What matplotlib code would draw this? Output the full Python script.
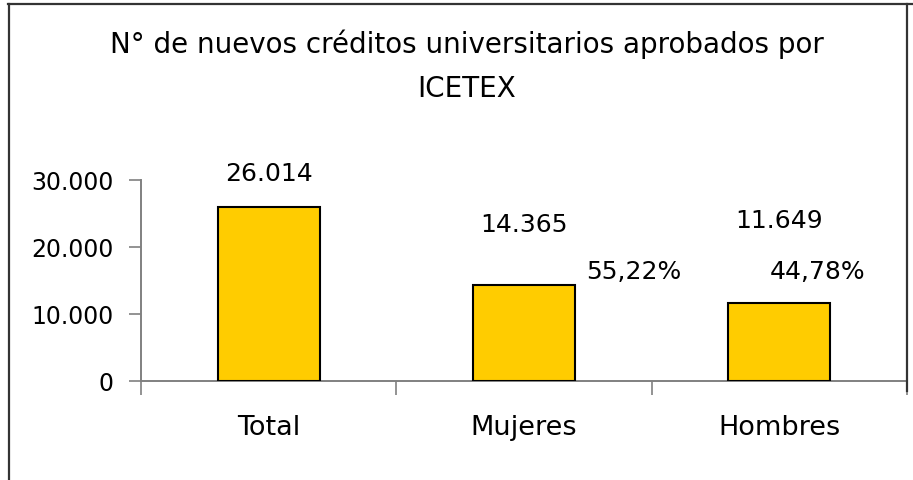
import numpy as np
import matplotlib
matplotlib.use('Agg')
import matplotlib.pyplot as plt
from matplotlib.lines import Line2D
from matplotlib.ticker import FuncFormatter, FixedLocator

plt.rcParams['font.family'] = ['DejaVu Sans']

# datos del grafico
categorias = ['Total', 'Mujeres', 'Hombres']
creditos = [26014, 14365, 11649]
porcentajes = [55.22, 44.78]  # Mujeres, Hombres
titulo = ['N° de nuevos créditos universitarios aprobados por', 'ICETEX']
yticks = [0, 10000, 20000, 30000]


def miles(v, pos=None):
    return '{:,.0f}'.format(v).replace(',', '.')


fig = plt.figure(figsize=(9.13, 4.81), dpi=100)
W, H = 913.0, 481.0

# marco exterior del grafico
frame = dict(color='#333333', lw=1.6, transform=fig.transFigure)
fig.add_artist(Line2D([8.5 / W, 8.5 / W], [0, 1 - 5 / H], **frame))
fig.add_artist(Line2D([8 / W, 1], [1 - 5 / H, 1 - 5 / H], **frame))
fig.add_artist(Line2D([906.5 / W, 906.5 / W], [1 - 5 / H, 1 - 392 / H], **frame))

ax = fig.add_axes([141 / W, 99 / H, 766 / W, 201 / H])
x = np.arange(len(categorias))
ax.bar(x, creditos, width=0.4, color='#FFCC00', edgecolor='black', lw=1.5,
       zorder=3)

ax.set_xlim(-0.5, len(categorias) - 0.5)
ax.set_ylim(0, 30000)

for s in ['top', 'right']:
    ax.spines[s].set_visible(False)
for s in ['left', 'bottom']:
    ax.spines[s].set_color('#808080')
    ax.spines[s].set_linewidth(1.4)

ax.yaxis.set_major_locator(FixedLocator(yticks))
ax.yaxis.set_major_formatter(FuncFormatter(miles))
ax.tick_params(axis='y', direction='out', length=9, width=1.2,
               color='#808080', labelsize=17, pad=11)

ax.set_xticks(x)
ax.set_xticklabels(categorias)
ax.set_xticks(np.arange(len(categorias) + 1) - 0.5, minor=True)
ax.tick_params(axis='x', which='major', length=0, labelsize=19.5, pad=24)
ax.tick_params(axis='x', which='minor', direction='out', length=10,
               width=1.2, color='#808080')

# etiquetas de valor
lab_y = [30000, 22400, 23000]
for i, v in enumerate(creditos):
    ax.text(x[i], lab_y[i], miles(v), ha='center', va='baseline',
            fontsize=18, zorder=4)

pct_x = [1.43, 2.15]
for px, p in zip(pct_x, porcentajes):
    ax.text(px, 15370, '{:.2f}%'.format(p).replace('.', ','), ha='center',
            va='baseline', fontsize=18)

fig.text(467 / W, 1 - 53 / H, titulo[0], ha='center', va='baseline',
         fontsize=20)
fig.text(467 / W, 1 - 97 / H, titulo[1], ha='center', va='baseline',
         fontsize=20)

fig.savefig('out.png', dpi=100)
